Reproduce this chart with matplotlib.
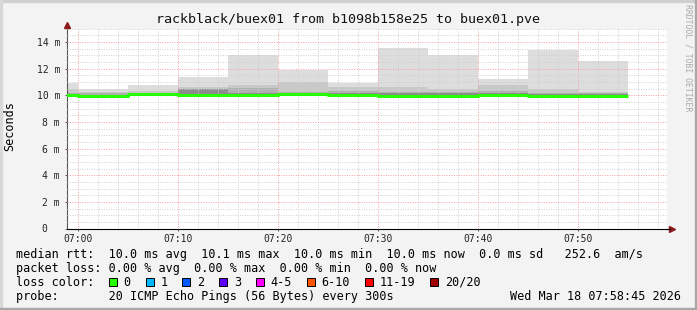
import datetime as dt
import matplotlib
matplotlib.use("Agg")
import matplotlib.pyplot as plt
import matplotlib.dates as mdates
from matplotlib.patches import Rectangle
from matplotlib.ticker import FixedLocator, FixedFormatter, MultipleLocator

W, H = 697, 310
MONO = "DejaVu Sans Mono"

# 5 minute rounds, 20 pings each (values in ms)
DAY = "2026-03-18"
block_start = ["06:55", "07:00", "07:05", "07:10", "07:15", "07:20",
               "07:25", "07:30", "07:35", "07:40", "07:45", "07:50"]
ping_min = [9.90, 9.88, 9.92, 9.92, 9.90, 9.92, 9.92, 9.88, 9.88, 9.92, 9.88, 9.88]
ping_max = [10.90, 10.46, 10.76, 11.40, 13.00, 11.90, 10.94, 13.56, 13.05, 11.20, 13.40, 12.56]
ping_q1 = [10.45, 10.26, 10.30, 10.64, 10.80, 11.00, 10.64, 10.64, 10.50, 10.76, 10.50, 10.26]
ping_q2 = [10.20, 10.15, 10.20, 10.50, 10.56, 10.26, 10.30, 10.26, 10.26, 10.34, 10.19, 10.15]
ping_q3 = [10.10, 10.05, 10.15, 10.48, 10.20, 10.14, 10.15, 10.15, 10.15, 10.15, 10.10, 10.10]
median_rtt = [10.00, 9.96, 10.08, 10.05, 9.98, 10.07, 10.04, 9.96, 9.96, 10.05, 9.96, 9.96]
block_end = "07:55"

ytick_values = [0, 2, 4, 6, 8, 10, 12, 14]
ytick_labels = ["0  ", "2 m", "4 m", "6 m", "8 m", "10 m", "12 m", "14 m"]

rtt_stats = {"avg": 10.0, "max": 10.1, "min": 10.0, "now": 10.0, "sd": 0.0, "am": 252.6}
loss_stats = {"avg": 0.00, "max": 0.00, "min": 0.00, "now": 0.00}
loss_labels = ["0", "1", "2", "3", "4-5", "6-10", "11-19", "20/20"]
loss_colors = ["#26ff00", "#00b8ff", "#0059ff", "#5e00ff", "#ff00ff", "#ff5500", "#ff0000", "#a10000"]

title = "rackblack/buex01 from b1098b158e25 to buex01.pve"
probe_text = "20 ICMP Echo Pings (56 Bytes) every 300s"
stamp_text = "Wed Mar 18 07:58:45 2026"
view_start, view_end = "06:58:50", "07:58:50"

smoke_colors = ["#dddddd", "#c8c8c8", "#b0b0b0", "#8c8c8c"]


def at(hm):
    return dt.datetime.fromisoformat(f"{DAY} {hm}")


def px(x, y):
    # pixel position (from top-left) -> figure fraction
    return x / W, 1 - y / H


fig = plt.figure(figsize=(W / 100, H / 100), dpi=100, facecolor="#f3f3f3")

# frame of the image
fig.add_artist(Rectangle(px(0, 2), 1, 2 / H, color="#d0d0d0", transform=fig.transFigure))
fig.add_artist(Rectangle(px(0, H), 2 / W, 1, color="#d8d8d8", transform=fig.transFigure))
fig.add_artist(Rectangle(px(W - 2, H), 2 / W, 1, color="#a8a8a8", transform=fig.transFigure))
fig.add_artist(Rectangle(px(0, H), 1, 2 / H, color="#a8a8a8", transform=fig.transFigure))

ax = fig.add_axes([66.7 / W, (H - 228.5) / H, 600 / W, 200 / H], facecolor="white")

times = [at(t) for t in block_start]
width = dt.timedelta(minutes=5)
for top, col in zip([ping_max, ping_q1, ping_q2, ping_q3], smoke_colors):
    ax.bar(times, [t - b for t, b in zip(top, ping_min)], bottom=ping_min,
           width=width, align="edge", color=col, linewidth=0, zorder=1)

ax.step(times + [at(block_end)], median_rtt + [median_rtt[-1]], where="post",
        color=loss_colors[0], lw=2.2, zorder=3, solid_capstyle="butt")

ax.set_xlim(at(view_start), at(view_end))
ax.set_ylim(0, 15)

ax.xaxis.set_major_locator(mdates.MinuteLocator(byminute=range(0, 60, 10)))
ax.xaxis.set_minor_locator(mdates.MinuteLocator(byminute=range(0, 60, 2)))
ax.xaxis.set_major_formatter(mdates.DateFormatter("%H:%M"))
ax.yaxis.set_major_locator(FixedLocator(ytick_values))
ax.yaxis.set_major_formatter(FixedFormatter(ytick_labels))
ax.yaxis.set_minor_locator(MultipleLocator(0.5))

ax.set_axisbelow(False)
dots = (0, (1, 1.5))
ax.grid(True, which="minor", color="#cfcfcf", lw=0.7, linestyle=dots)
ax.grid(True, which="major", color="#f4a0a0", lw=0.7, linestyle=dots)

for lab in ax.get_xticklabels() + ax.get_yticklabels():
    lab.set_family(MONO)
ax.tick_params(which="major", length=1.6, width=0.7, color="#555555",
               labelsize=7, labelcolor="#222222")
ax.tick_params(axis="x", pad=2.2)
ax.tick_params(axis="y", pad=3.2)
ax.tick_params(which="minor", length=0)

for side in ("top", "right"):
    ax.spines[side].set_visible(False)
ax.spines["left"].set_color("#555555")
ax.spines["left"].set_linewidth(0.8)
ax.spines["bottom"].set_color("black")
ax.spines["bottom"].set_linewidth(0.8)

# axis arrows
ax.plot([1.0 + 5 / 600], [0], marker=">", ms=5, color="#8b1a1a", transform=ax.transAxes, clip_on=False, zorder=5)
ax.plot([1.0, 1.0 + 3 / 600], [0, 0], color="black", lw=0.8, transform=ax.transAxes, clip_on=False, zorder=5)
ax.plot([0], [1.0 + 4 / 200], marker="^", ms=5, color="#8b1a1a", transform=ax.transAxes, clip_on=False, zorder=5)

fig.text(*px(348.5, 19), title, family=MONO, fontsize=9.6, ha="center", va="center", color="#111111")
fig.text(*px(10, 126), "Seconds", family=MONO, fontsize=8.5, rotation=90, ha="center", va="center")
fig.text(*px(688, 4), "RRDTOOL / TOBI OETIKER", family=MONO, fontsize=5.9, rotation=270,
         ha="center", va="top", color="#aaaaaa")

# legend block under the graph
CH = 7.1
x0 = 16.4
line1 = (f"median rtt:  {rtt_stats['avg']:.1f} ms avg  {rtt_stats['max']:.1f} ms max  "
         f"{rtt_stats['min']:.1f} ms min  {rtt_stats['now']:.1f} ms now  "
         f"{rtt_stats['sd']:.1f} ms sd   {rtt_stats['am']:.1f}  am/s")
line2 = (f"packet loss: {loss_stats['avg']:.2f} % avg  {loss_stats['max']:.2f} % max  "
         f"{loss_stats['min']:.2f} % min  {loss_stats['now']:.2f} % now")
fig.text(*px(x0, 254.5), line1, family=MONO, fontsize=8.5, va="center")
fig.text(*px(x0, 268.3), line2, family=MONO, fontsize=8.5, va="center")
fig.text(*px(x0, 282.3), "loss color:", family=MONO, fontsize=8.5, va="center")
fig.text(*px(x0, 296.2), "probe:       " + probe_text, family=MONO, fontsize=8.5, va="center")
fig.text(*px(681, 296.2), stamp_text, family=MONO, fontsize=8.5, va="center", ha="right")

bx = x0 + 13 * CH
for lab, col in zip(loss_labels, loss_colors):
    fig.add_artist(Rectangle(px(bx, 286.3), 8 / W, 8 / H, facecolor=col, edgecolor="black",
                             lw=0.7, transform=fig.transFigure))
    fig.text(*px(bx + 14.7, 282.3), lab, family=MONO, fontsize=8.5, va="center")
    bx += 14.7 + len(lab) * CH + 15.0

fig.savefig("out.png", dpi=100, facecolor=fig.get_facecolor())
